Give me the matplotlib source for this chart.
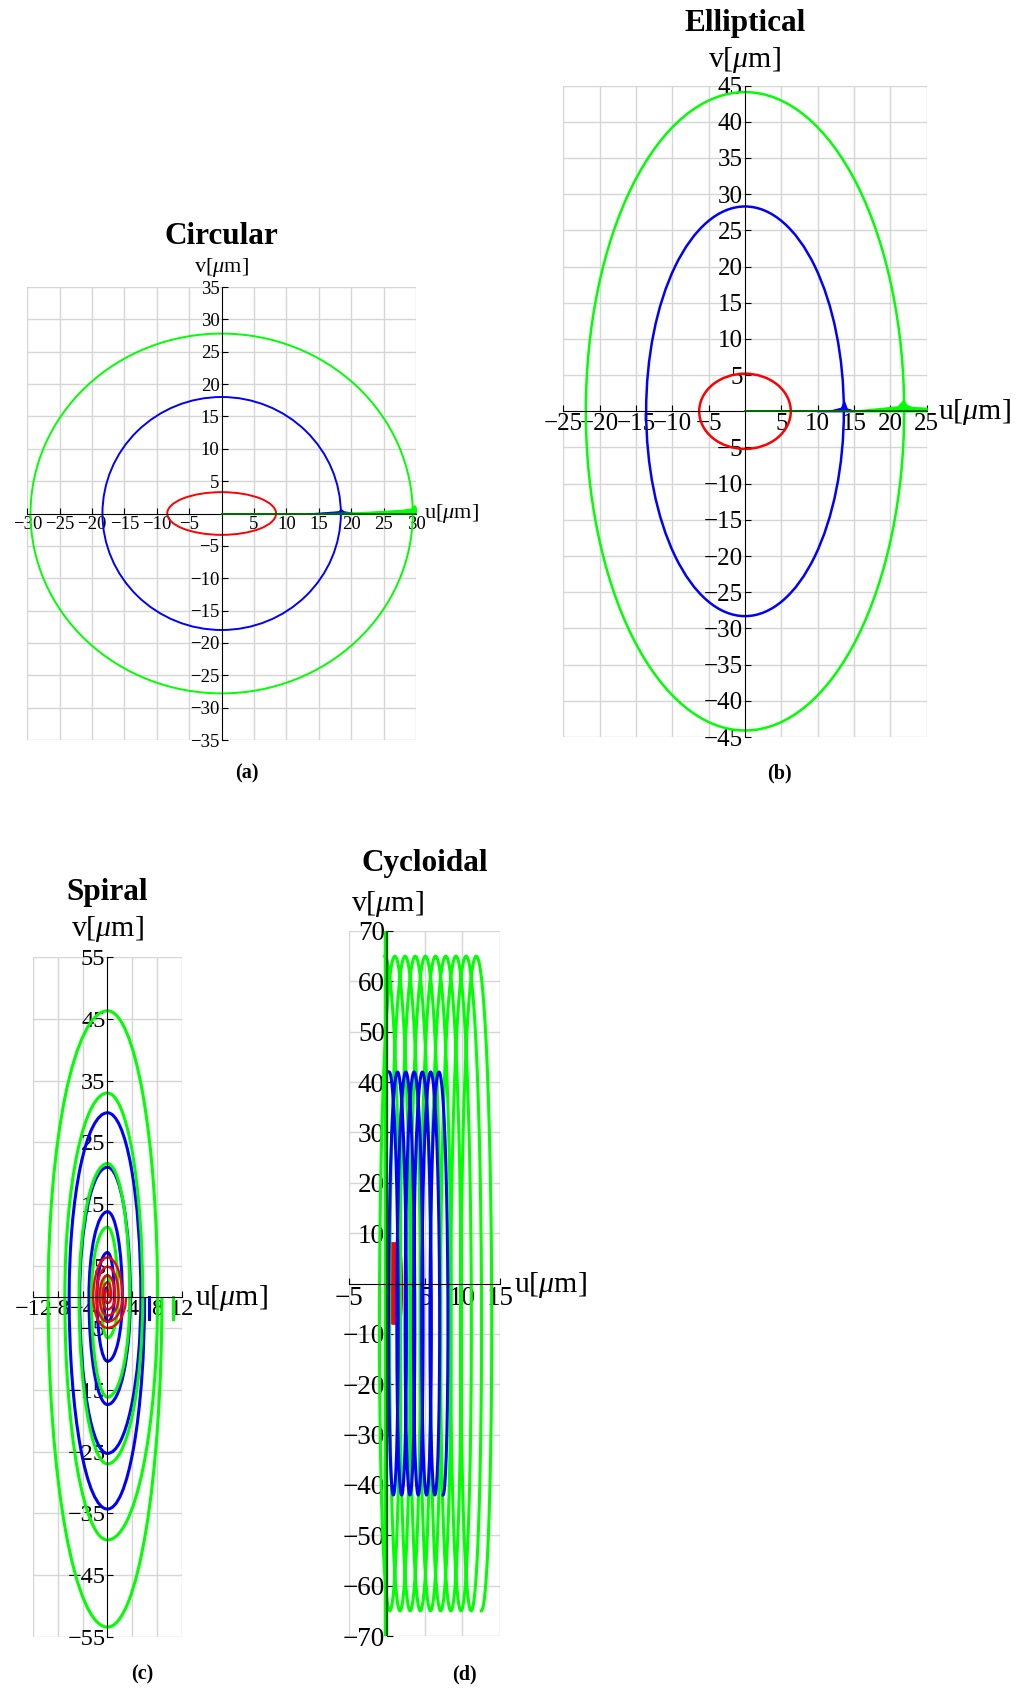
import numpy as np
import matplotlib
matplotlib.use('Agg')
import matplotlib.pyplot as plt
from matplotlib.patches import Arc, Ellipse

plt.rcParams['font.family'] = ['Liberation Serif', 'DejaVu Serif']
plt.rcParams['mathtext.fontset'] = 'custom'
plt.rcParams['mathtext.rm'] = 'Liberation Serif'
plt.rcParams['mathtext.it'] = 'Liberation Serif:italic'

GREEN = '#00ff00'
BLUE = '#0000ff'
RED = '#ff0000'
DARK_GREEN = '#006a00'

W, H = 1029, 1691

# ---- (a) circular orbits ----
circ_colors = [RED, BLUE, GREEN]
circ_semi_u = [8.4, 18.4, 29.5]
circ_semi_v = [3.3, 18.0, 27.8]
circ_xticks = [-30, -25, -20, -15, -10, -5, 5, 10, 15, 20, 25, 30]
circ_yticks = [-35, -30, -25, -20, -15, -10, -5, 5, 10, 15, 20, 25, 30, 35]
circ_green_tail_u = [14, 20, 24, 28, 29.3, 29.7, 30]
circ_green_tail_v = [0, 0.15, 0.35, 0.6, 0.8, 1.3, 0.9]
circ_blue_tail_u = [13, 16, 18.0, 18.4, 18.8, 21]
circ_blue_tail_v = [0, 0.2, 0.35, 0.7, 0.35, 0]
circ_red_tail_u = [6.0, 10.5]

# ---- (b) elliptical orbits ----
ell_colors = [RED, BLUE, GREEN]
ell_semi_u = [6.3, 13.6, 21.9]
ell_semi_v = [5.2, 28.3, 44.1]
ell_xticks = [-25, -20, -15, -10, -5, 5, 10, 15, 20, 25]
ell_yticks = [-45, -40, -35, -30, -25, -20, -15, -10, -5, 5, 10, 15, 20, 25, 30, 35, 40, 45]
ell_green_tail_u = [15, 18, 21, 21.8, 22.2, 23, 25]
ell_green_tail_v = [0.1, 0.4, 0.7, 1.6, 0.9, 0.6, 0.5]
ell_blue_tail_u = [9.9, 12, 13.2, 13.6, 14.0, 15]
ell_blue_tail_v = [0.05, 0.2, 0.5, 1.5, 0.4, 0.1]
ell_red_tail_u = [4.8, 8.0]

# ---- (c) spiral: successive turning points (right, bottom, left, top, ...) ----
sp_colors = [BLUE, GREEN, RED]
sp_right = [[6.0, 5.4, 3.7, 2.4, 1.1, 0.3],
            [8.8, 8.1, 5.7, 3.6, 1.7, 0.4],
            [3.0, 2.4, 1.8, 1.2, 0.6, 0.2]]
sp_bottom = [[-34.3, -25.3, -17.4, -10.4, -4.0],
             [-53.4, -39.3, -27.0, -16.2, -6.6],
             [-5.0, -4.0, -3.0, -2.0, -1.0]]
sp_left = [[-6.2, -4.5, -3.0, -1.7, -0.6],
           [-9.6, -6.9, -4.6, -2.6, -1.0],
           [-2.3, -1.8, -1.3, -0.8, -0.4]]
sp_top = [[29.8, 21.0, 13.8, 7.2, 1.5],
          [46.3, 33.0, 21.6, 11.3, 3.5],
          [6.4, 4.9, 3.5, 2.4, 1.2]]
sp_widths = [2.2, 2.2, 1.7]
sp_stub_u = [6.7, 10.6]
sp_stub_colors = [BLUE, GREEN]
sp_xticks = [-12, -8, -4, 4, 8, 12]
sp_yticks = [-55, -45, -35, -25, -15, -5, 5, 15, 25, 35, 45, 55]

# ---- (d) cycloidal ----
cyc_colors = [RED, GREEN, BLUE]
cyc_amp = [8, 65, 42]
cyc_sway = [0.35, 1.7, 0.9]
cyc_pitch = [0.2, 1.35, 1.1]
cyc_first_crest = [0.6, -0.3, 0.3]
cyc_turns = [5.5, 9.5, 6.5]
cyc_widths = [1.5, 2.2, 2.2]
cyc_xticks = [-5, 5, 10, 15]
cyc_yticks = [-70, -60, -50, -40, -30, -20, -10, 10, 20, 30, 40, 50, 60, 70]


def tick_text(t):
    return f'\u2212{abs(t)}' if t < 0 else f'{t}'


def add_panel(fig, left, right, top, bottom):
    return fig.add_axes([left / W, 1 - bottom / H, (right - left) / W, (bottom - top) / H])


def setup(ax, xlim, ylim, xticks, yticks, fs):
    ax.set_xlim(*xlim)
    ax.set_ylim(*ylim)
    ax.patch.set_alpha(0)
    for s in ['top', 'right']:
        ax.spines[s].set_visible(False)
    for s in ['left', 'bottom']:
        ax.spines[s].set_position(('data', 0))
        ax.spines[s].set_linewidth(0.8)
    ax.set_xticks(xticks)
    ax.set_xticklabels([tick_text(t) for t in xticks])
    ax.set_yticks(yticks)
    ax.set_yticklabels([tick_text(t) for t in yticks])
    ax.tick_params(direction='in', length=4, width=0.8, labelsize=fs, pad=1.5)
    ax.grid(True, color='#d6d6d6', lw=1.0)
    ax.set_axisbelow(True)


def label(fig, x, y, s, size, ha='center', weight='normal'):
    fig.text(x / W, 1 - y / H, s, ha=ha, va='center', fontsize=size, fontweight=weight)


fig = plt.figure(figsize=(W / 100, H / 100), dpi=100)

# (a)
ax = add_panel(fig, 27.3, 416, 287, 740)
setup(ax, (-30, 30), (-35, 35), circ_xticks, circ_yticks, 13.5)
for c, a, b in zip(circ_colors, circ_semi_u, circ_semi_v):
    ax.add_patch(Ellipse((0, 0), 2 * a, 2 * b, fill=False, ec=c, lw=1.4, zorder=2))
ax.fill_between(circ_blue_tail_u, 0, circ_blue_tail_v, color=BLUE, lw=0.8, zorder=2)
ax.fill_between(circ_green_tail_u, 0, circ_green_tail_v, color=GREEN, lw=0.8, zorder=2)
ax.plot(circ_red_tail_u, [-0.15, -0.15], color=RED, lw=0.6, alpha=0.5)
ax.plot([0, 30], [0, 0], color=DARK_GREEN, lw=1.4, zorder=3)
label(fig, 221.8, 236, 'Circular', 22.5, weight='bold')
label(fig, 221, 268, r'v[$\mu$m]', 16)
label(fig, 424, 513, r'u[$\mu$m]', 16, ha='left')
label(fig, 247, 773, '(a)', 14.5, weight='bold')

# (b)
ax = add_panel(fig, 563.3, 926.7, 85.6, 737)
setup(ax, (-25, 25), (-45, 45), ell_xticks, ell_yticks, 18)
for c, a, b in zip(ell_colors, ell_semi_u, ell_semi_v):
    ax.add_patch(Ellipse((0, 0), 2 * a, 2 * b, fill=False, ec=c, lw=1.8, zorder=2))
ax.fill_between(ell_blue_tail_u, 0, ell_blue_tail_v, color=BLUE, lw=0.8, zorder=2)
ax.fill_between(ell_green_tail_u, 0, ell_green_tail_v, color=GREEN, lw=0.8, zorder=2)
ax.plot(ell_red_tail_u, [0, 0], color=RED, lw=1.5, zorder=2)
ax.plot([0, 25], [0, 0], color=DARK_GREEN, lw=1.4, zorder=3)
label(fig, 745, 24, 'Elliptical', 22.5, weight='bold')
label(fig, 744, 60, r'v[$\mu$m]', 21.5)
label(fig, 938, 412, r'u[$\mu$m]', 21.5, ha='left')
label(fig, 779, 773, '(b)', 14.5, weight='bold')

# (c)
ax = add_panel(fig, 33.3, 181.7, 957, 1637)
setup(ax, (-12, 12), (-55, 55), sp_xticks, sp_yticks, 17.5)
for i, c in enumerate(sp_colors):
    r, bt, lf, tp = sp_right[i], sp_bottom[i], sp_left[i], sp_top[i]
    for k in range(len(bt)):
        quarters = [(r[k], bt[k], 270, 360), (lf[k], bt[k], 180, 270),
                    (lf[k], tp[k], 90, 180), (r[k + 1], tp[k], 0, 90)]
        for a, b, t1, t2 in quarters:
            ax.add_patch(Arc((0, 0), 2 * abs(a), 2 * abs(b), theta1=t1, theta2=t2,
                             color=c, lw=sp_widths[i], zorder=2 + i * 0.1))
for u, c in zip(sp_stub_u, sp_stub_colors):
    ax.plot([u, u], [0, -3.5], color=c, lw=2.2)
label(fig, 107.5, 893, 'Spiral', 22.5, weight='bold')
label(fig, 107, 929, r'v[$\mu$m]', 21.5)
label(fig, 195, 1298, r'u[$\mu$m]', 21.5, ha='left')
label(fig, 142, 1674, '(c)', 14.5, weight='bold')

# (d)
ax = add_panel(fig, 349.3, 500, 931, 1636)
setup(ax, (-5, 15), (-70, 70), cyc_xticks, cyc_yticks, 19.5)
ax.plot([-0.3, -0.3], [-70, 70], color=GREEN, lw=2.5, zorder=2)
for c, A, B, p, u0, n, lw in zip(cyc_colors, cyc_amp, cyc_sway, cyc_pitch,
                                 cyc_first_crest, cyc_turns, cyc_widths):
    th = np.linspace(0, 2 * np.pi * n, 5000)
    u = u0 + p * th / (2 * np.pi) + B * np.sin(th)
    v = A * np.cos(th)
    ax.plot(u, v, color=c, lw=lw, zorder=2)
ax.plot([0.05, 0.05], [-70, 70], color=DARK_GREEN, lw=1.6, zorder=3)
label(fig, 425, 864, 'Cycloidal', 22.5, weight='bold')
label(fig, 387, 904, r'v[$\mu$m]', 21.5)
label(fig, 514, 1285, r'u[$\mu$m]', 21.5, ha='left')
label(fig, 464, 1674, '(d)', 14.5, weight='bold')

fig.savefig('out.png', dpi=100)
